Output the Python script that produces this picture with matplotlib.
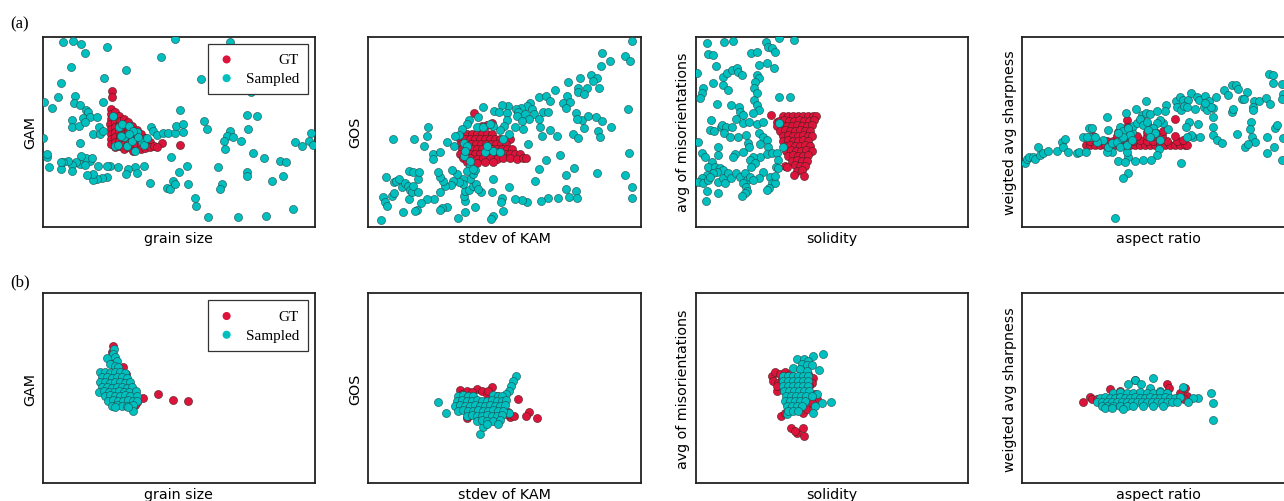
import numpy as np
import matplotlib
matplotlib.use("Agg")
import matplotlib.pyplot as plt

# values; axes carry no ticks, so units are arbitrary
# (every panel spans 0-817 horizontally and 0-570 vertically)
XMAX, YMAX = 817, 570

x_labels = ["grain size", "stdev of KAM", "solidity", "aspect ratio"]
y_labels = ["GAM", "GOS", "avg of misorientations", "weigted avg sharpness"]
row_tags = ["(a)", "(b)"]

# ---------------- row (a) ----------------
gt_a1 = [(207, 406), (209, 388),
         (204, 353), (204, 338), (205, 323), (203, 308), (204, 293), (205, 278), (204, 263), (204, 248),
         (217, 343), (216, 328), (218, 313), (217, 298), (216, 283), (218, 268), (217, 253), (217, 238),
         (230, 333), (231, 318), (229, 303), (230, 288), (231, 273), (229, 258), (230, 243),
         (243, 323), (242, 308), (244, 293), (243, 278), (242, 263), (244, 248), (243, 233),
         (256, 313), (257, 298), (255, 283), (256, 268), (257, 253), (255, 238),
         (269, 303), (268, 288), (270, 273), (269, 258), (268, 243), (270, 228),
         (282, 291), (283, 276), (281, 261), (282, 246),
         (295, 278), (294, 263), (296, 248), (295, 233),
         (308, 265), (309, 250), (307, 235),
         (321, 253), (322, 238), (334, 243),
         (357, 251), (412, 246), (342, 238)]
smp_a1 = [(62, 555), (92, 558), (115, 548), (127, 521), (192, 540), (397, 563), (355, 508),
          (85, 478), (249, 471), (184, 446), (55, 431), (47, 388), (5, 373), (27, 356),
          (97, 393), (94, 370), (112, 365), (130, 350), (137, 343), (180, 375), (87, 321),
          (120, 325), (142, 328), (162, 328), (87, 298), (109, 303), (127, 315), (169, 298),
          (150, 278), (172, 278), (182, 288), (112, 251), (324, 298), (332, 288), (342, 275),
          (362, 280), (377, 280), (397, 280), (400, 303), (422, 308), (412, 350), (484, 318),
          (492, 293), (422, 283), (614, 336), (642, 331), (617, 293), (562, 288), (552, 273),
          (572, 268), (544, 258), (547, 233), (594, 258), (632, 221), (665, 205), (712, 198),
          (730, 193), (757, 253), (777, 241), (799, 258), (804, 280), (812, 246), (720, 153),
          (687, 138), (612, 163), (612, 153), (537, 128), (532, 113), (525, 178), (475, 443),
          (562, 555), (624, 403), (457, 86), (459, 63), (497, 30), (587, 28), (670, 33),
          (752, 53), (437, 128), (432, 181), (409, 163), (384, 208), (390, 138), (372, 116),
          (382, 113), (397, 128), (322, 130), (304, 183), (277, 178), (282, 161), (255, 173),
          (250, 158), (227, 180), (202, 183), (192, 183), (194, 148), (177, 146), (164, 143),
          (152, 141), (150, 158), (134, 156), (167, 183), (142, 198), (130, 205), (115, 211),
          (112, 188), (100, 193), (87, 185), (87, 166), (77, 198), (62, 195), (54, 173),
          (55, 193), (20, 180), (14, 208), (12, 218), (127, 186), (147, 205), (2, 265),
          (212, 333), (229, 298), (239, 308), (259, 303), (217, 243), (244, 268), (227, 246),
          (234, 271), (252, 243), (277, 228), (282, 285), (267, 258), (297, 255), (304, 246),
          (314, 265), (287, 268), (272, 288), (260, 278)]

gt_a2 = [(317, 341), (355, 305), (370, 311), (340, 303),
         (280, 278), (295, 279), (310, 277), (325, 278), (340, 279), (355, 277), (370, 278),
         (275, 263), (290, 264), (305, 262), (320, 263), (335, 264), (350, 262), (365, 263),
         (380, 264), (395, 262), (425, 263),
         (277, 248), (293, 249), (308, 247), (323, 248), (338, 249), (353, 247), (368, 248),
         (383, 249), (398, 247), (413, 248),
         (280, 233), (295, 234), (310, 232), (325, 233), (340, 234), (355, 232), (370, 233),
         (385, 234), (400, 232), (415, 233), (430, 234),
         (275, 218), (290, 219), (305, 217), (320, 218), (335, 219), (350, 217), (365, 218),
         (380, 219), (395, 217), (410, 218), (425, 219), (440, 217), (455, 218),
         (285, 205), (305, 206), (325, 204), (345, 205), (365, 206), (385, 204), (405, 205),
         (425, 206), (445, 204), (465, 205), (473, 206),
         (295, 193), (325, 192), (350, 194), (375, 193)]
smp_a2 = [(790, 556), (702, 521), (770, 513), (785, 496), (725, 498), (697, 483), (668, 455),
          (685, 446), (675, 438), (635, 445), (600, 433), (693, 415), (657, 415), (630, 415),
          (630, 405), (647, 398), (560, 410), (595, 393), (513, 388), (533, 391), (545, 378),
          (585, 371), (605, 373), (593, 355), (485, 371), (475, 363), (490, 353), (458, 356),
          (443, 353), (420, 361), (400, 365), (378, 348), (393, 343), (415, 341), (450, 343),
          (445, 331), (470, 338), (497, 338), (525, 345), (540, 343), (513, 323), (483, 323),
          (460, 316), (440, 300), (463, 293), (415, 321), (407, 303), (395, 291), (423, 278),
          (403, 263), (345, 358), (330, 328), (303, 321), (295, 308), (325, 298), (343, 298),
          (375, 303), (365, 308), (280, 293), (273, 275), (260, 271), (235, 253), (257, 243),
          (180, 298), (177, 273), (168, 243), (137, 263), (73, 263), (193, 218), (215, 225),
          (195, 203), (515, 298), (520, 273), (545, 291), (567, 273), (623, 340), (640, 321),
          (658, 331), (627, 323), (647, 295), (683, 330), (700, 316), (690, 288), (695, 268),
          (728, 298), (778, 353), (613, 278), (630, 265), (575, 216), (533, 200), (480, 248),
          (513, 173), (500, 136), (617, 175), (592, 155), (687, 161), (770, 155), (783, 221),
          (792, 120), (790, 86), (592, 113), (622, 106), (627, 87), (602, 88), (568, 85),
          (540, 85), (517, 78), (475, 75), (460, 81), (440, 83), (400, 85), (397, 75), (405, 48),
          (422, 120), (375, 143), (370, 105), (373, 33), (368, 23), (320, 60), (290, 43),
          (270, 26), (290, 78), (288, 93), (290, 108), (303, 111), (313, 121), (322, 128),
          (337, 105), (330, 113), (305, 143), (315, 158), (320, 171), (305, 183), (295, 168),
          (285, 143), (283, 128), (273, 135), (265, 158), (250, 171), (255, 138), (247, 125),
          (230, 123), (225, 138), (215, 148), (210, 163), (215, 103), (235, 58), (220, 55),
          (215, 50), (197, 83), (177, 83), (157, 71), (147, 51), (140, 46), (122, 83), (105, 43),
          (38, 21), (45, 88), (50, 73), (55, 63), (70, 93), (77, 101), (53, 148), (78, 133),
          (83, 138), (93, 143), (100, 118), (110, 131), (120, 123), (125, 111), (130, 103),
          (135, 123), (150, 105), (150, 143), (123, 168), (135, 163), (153, 163),
          (287, 251), (295, 243), (287, 213), (305, 198), (315, 173), (350, 225), (375, 228),
          (355, 243), (395, 223), (290, 228)]

gt_a3 = [(225, 335), (242, 315),
         (262, 332), (277, 333), (292, 331), (307, 332), (322, 333), (337, 331), (352, 332), (360, 333),
         (250, 318), (265, 319), (280, 317), (295, 318), (310, 319), (325, 317), (340, 318), (355, 319),
         (242, 303), (257, 304), (272, 302), (287, 303), (302, 304), (317, 302), (332, 303), (347, 304),
         (252, 288), (267, 289), (282, 287), (297, 288), (312, 289), (327, 287), (342, 288),
         (260, 273), (275, 274), (290, 272), (305, 273), (320, 274), (335, 272), (347, 273),
         (262, 258), (277, 259), (292, 257), (307, 258), (322, 259), (337, 257),
         (267, 243), (282, 244), (297, 242), (312, 243), (327, 244), (342, 242),
         (270, 228), (285, 229), (300, 227), (315, 228), (330, 229), (347, 227),
         (277, 213), (292, 214), (307, 212), (322, 213), (337, 214),
         (287, 198), (302, 199), (317, 197), (332, 198),
         (267, 183), (297, 184), (312, 182), (327, 183),
         (302, 168), (317, 169), (294, 155), (324, 153), (272, 180)]
smp_a3 = [(32, 550), (85, 555), (110, 557), (210, 555), (249, 565), (294, 560), (37, 518),
          (50, 515), (60, 482), (164, 520), (182, 525), (217, 540), (227, 535), (237, 525),
          (214, 490), (234, 475), (190, 485), (82, 450), (92, 460), (107, 470), (122, 475),
          (127, 465), (137, 455), (82, 425), (97, 410), (52, 430), (20, 415), (17, 400),
          (12, 385), (4, 462), (182, 455), (190, 445), (177, 435), (175, 415), (182, 400),
          (175, 380), (182, 365), (190, 350), (170, 340), (62, 368), (105, 365), (130, 360),
          (132, 345), (120, 322), (142, 335), (250, 388), (282, 388), (44, 320), (75, 300),
          (77, 305), (90, 300), (107, 298), (142, 312), (160, 315), (182, 308), (202, 315),
          (42, 290), (55, 288), (84, 280), (102, 268), (127, 270), (150, 275), (190, 280),
          (202, 270), (212, 260), (192, 248), (157, 252), (160, 240), (140, 225), (117, 218),
          (110, 210), (67, 240), (67, 215), (7, 255), (17, 220), (27, 210), (217, 240),
          (214, 218), (227, 222), (242, 220), (262, 240), (247, 200), (240, 180), (192, 210),
          (172, 210), (162, 200), (177, 190), (200, 165), (164, 180), (47, 195), (37, 180),
          (57, 180), (72, 175), (82, 170), (64, 165), (52, 160), (32, 155), (17, 145), (7, 135),
          (20, 132), (37, 140), (42, 150), (67, 135), (80, 145), (87, 130), (97, 160),
          (104, 145), (120, 160), (132, 150), (147, 160), (154, 140), (162, 150), (142, 132),
          (150, 120), (154, 108), (147, 100), (137, 92), (32, 108), (67, 102), (30, 77),
          (190, 145), (172, 140), (222, 150), (227, 132), (237, 130), (220, 115), (212, 110),
          (237, 152), (247, 177), (249, 312)]

gt_a4 = [(313, 320), (458, 322),
         (191, 245), (203, 246), (218, 244), (233, 245), (248, 246), (263, 244), (278, 245),
         (293, 246), (308, 244), (323, 245), (338, 246), (353, 244), (368, 245), (383, 246),
         (398, 244), (413, 245), (428, 246), (443, 244), (458, 245), (473, 246), (488, 244), (495, 245),
         (203, 258), (218, 259), (253, 257), (273, 258), (293, 259), (313, 257), (333, 258),
         (353, 259), (373, 257), (393, 258), (413, 259), (433, 257), (463, 258), (483, 259),
         (213, 272), (283, 273), (303, 271), (323, 272), (343, 273), (373, 271), (393, 272),
         (418, 273), (458, 271),
         (288, 285), (313, 286), (373, 284), (398, 285), (423, 286),
         (313, 300), (378, 301)]
smp_a4 = [(8, 190), (13, 202), (21, 210), (33, 210), (38, 202), (48, 240), (53, 215), (63, 220),
          (78, 228), (105, 228), (118, 255), (128, 262), (123, 240), (138, 225), (163, 220),
          (170, 225), (191, 225), (181, 268), (201, 297), (208, 295), (203, 270), (255, 328),
          (258, 290), (311, 340), (341, 353), (371, 377), (358, 335), (371, 342), (383, 338),
          (403, 348), (431, 365), (428, 347), (461, 378), (473, 390), (483, 380), (498, 380),
          (505, 402), (523, 390), (531, 380), (548, 392), (561, 377), (581, 388), (605, 410),
          (618, 395), (628, 425), (641, 425), (648, 412), (675, 405), (658, 382), (665, 382),
          (695, 377), (711, 377), (731, 385), (743, 368), (741, 458), (753, 455), (751, 430),
          (778, 428), (783, 398), (778, 382), (691, 360), (693, 350), (628, 345), (633, 352),
          (571, 357), (545, 360), (553, 350), (565, 358), (573, 330), (573, 298), (573, 275),
          (583, 260), (598, 252), (528, 308), (501, 315), (491, 298), (513, 270), (533, 268),
          (505, 275), (493, 270), (475, 192), (438, 292), (423, 310), (413, 320), (403, 310),
          (391, 295), (398, 280), (413, 260), (411, 233), (403, 215), (385, 200), (363, 200),
          (338, 198), (318, 210), (313, 225), (288, 197), (308, 193), (316, 162), (303, 145),
          (278, 27), (268, 225), (253, 225), (258, 240), (268, 250), (283, 255), (298, 265),
          (313, 280), (328, 285), (333, 302), (343, 312), (353, 322), (361, 305), (373, 315),
          (378, 290), (383, 270), (293, 300), (301, 288), (318, 295), (323, 275), (303, 270),
          (288, 280), (293, 240), (313, 245), (328, 260), (243, 260), (223, 255), (193, 268),
          (218, 270), (685, 315), (683, 292), (688, 270), (698, 255), (668, 240), (678, 248),
          (645, 278), (733, 268), (758, 295), (763, 305), (755, 240), (733, 220), (778, 200),
          (783, 265), (465, 358), (476, 350), (485, 362), (495, 360), (518, 352), (548, 370)]

# ---------------- row (b) ----------------
gt_b1 = [(302, 255), (347, 268), (390, 251), (435, 248), (282, 243), (277, 235), (210, 411),
         (207, 395), (240, 348), (250, 328), (272, 248), (267, 241), (207, 358), (192, 323),
         (202, 293), (222, 273), (252, 263), (267, 273)]
smp_b1 = [(214, 403), (210, 388), (217, 378), (192, 375), (222, 368), (202, 358), (217, 353), (227, 348),
          (172, 333), (187, 334), (202, 332), (217, 333), (232, 334), (247, 332),
          (177, 318), (192, 319), (207, 317), (222, 318), (237, 319), (252, 317),
          (172, 303), (187, 304), (202, 302), (217, 303), (232, 304), (247, 302), (262, 303),
          (177, 288), (192, 289), (207, 287), (222, 288), (237, 289), (252, 287), (267, 288),
          (170, 275), (185, 276), (200, 274), (215, 275), (230, 276), (245, 274), (260, 275), (280, 276),
          (187, 263), (202, 264), (217, 262), (232, 263), (247, 264), (262, 262), (282, 263),
          (197, 248), (212, 249), (227, 247), (242, 248), (257, 249), (272, 247), (284, 248),
          (207, 233), (222, 234), (237, 232), (254, 233), (270, 234),
          (272, 218), (217, 228), (257, 228)]

gt_b2 = [(275, 281), (295, 278), (325, 283), (340, 278), (372, 288), (450, 253), (483, 215),
         (473, 201), (505, 195), (425, 198), (437, 203), (420, 215), (295, 195), (300, 203),
         (355, 268), (385, 263), (405, 223), (415, 208), (280, 268), (310, 273), (360, 278)]
smp_b2 = [(208, 243), (233, 211), (335, 148), (345, 168), (442, 323), (433, 308), (428, 293),
          (422, 278), (413, 268), (423, 211),
          (270, 263), (285, 264), (300, 262), (315, 263), (375, 264), (390, 262), (400, 263),
          (265, 248), (280, 249), (295, 247), (310, 248), (325, 249), (340, 247), (355, 248),
          (370, 249), (385, 247), (400, 248), (413, 249),
          (260, 233), (275, 234), (290, 232), (305, 233), (320, 234), (335, 232), (350, 233),
          (365, 234), (380, 232), (395, 233), (410, 234),
          (270, 218), (285, 219), (300, 217), (315, 218), (330, 219), (345, 217), (360, 218),
          (375, 219), (390, 217), (405, 218),
          (295, 203), (310, 204), (325, 202), (340, 203), (355, 204), (370, 202), (385, 203), (400, 204),
          (325, 188), (340, 189), (355, 187), (375, 188), (395, 189),
          (355, 178), (390, 178)]

gt_b3 = [(227, 322), (237, 334), (252, 327), (267, 334), (282, 327), (232, 307), (247, 302),
         (242, 277), (254, 202), (267, 210), (322, 212), (332, 222), (352, 317), (347, 302),
         (340, 292), (357, 267), (362, 252), (347, 242), (285, 167), (302, 152), (320, 167),
         (324, 142), (297, 157), (257, 312), (272, 317), (337, 327), (242, 292)]
smp_b3 = [(382, 387), (352, 382), (370, 340), (404, 244), (377, 242), (364, 267), (357, 232),
          (350, 210), (272, 207), (304, 372), (324, 372), (337, 367), (317, 357), (332, 354),
          (347, 354), (292, 347), (312, 342), (332, 337),
          (262, 322), (277, 323), (292, 321), (307, 322), (322, 323), (337, 321),
          (260, 307), (275, 308), (290, 306), (305, 307), (320, 308), (335, 306),
          (262, 292), (277, 293), (292, 291), (307, 292), (322, 293), (337, 291),
          (264, 277), (279, 278), (294, 276), (309, 277), (324, 278), (339, 276),
          (270, 262), (285, 263), (300, 261), (315, 262), (330, 263), (347, 261),
          (267, 247), (282, 248), (297, 246), (312, 247), (327, 248),
          (272, 232), (287, 233), (302, 231), (317, 232),
          (277, 217), (292, 218), (307, 216)]

gt_b4 = [(183, 244), (203, 260), (208, 252), (263, 282), (338, 310), (433, 297), (441, 287),
         (473, 270), (488, 287), (493, 262), (398, 262), (223, 252), (373, 267), (293, 277),
         (485, 252), (453, 252)]
smp_b4 = [(393, 317), (338, 310), (355, 297), (483, 289), (565, 270), (573, 242), (573, 189),
          (528, 257), (513, 257), (498, 244), (383, 287), (413, 277), (318, 297),
          (273, 272), (293, 273), (313, 271), (333, 272), (353, 273), (373, 271), (393, 272),
          (413, 273), (433, 271),
          (233, 257), (248, 258), (263, 256), (278, 257), (293, 258), (308, 256), (323, 257),
          (338, 258), (353, 256), (368, 257), (383, 258), (398, 256), (413, 257), (428, 258),
          (443, 256), (458, 257), (473, 258),
          (223, 244), (238, 245), (253, 243), (268, 244), (283, 245), (298, 243), (313, 244),
          (328, 245), (343, 243), (358, 244), (373, 245), (388, 243), (403, 244), (418, 245),
          (433, 243), (448, 244), (463, 245),
          (238, 232), (253, 233), (273, 231), (293, 232), (313, 233), (333, 231), (363, 232),
          (393, 233), (423, 231),
          (248, 225), (268, 226), (303, 224)]

panels = [[(gt_a1, smp_a1), (gt_a2, smp_a2), (gt_a3, smp_a3), (gt_a4, smp_a4)],
          [(gt_b1, smp_b1), (gt_b2, smp_b2), (gt_b3, smp_b3), (gt_b4, smp_b4)]]

gt_color = "crimson"
smp_color = "c"

W, H = 1284, 502
fig = plt.figure(figsize=(W / 100, H / 100), dpi=100)

lefts = [42.7, 368.3, 696.0, 1022.3]
bottoms = [227.7, 484.3]
aw, ah = 272.3, 190.0
tag_y = [24.5, 282.0]

for r in range(2):
    fig.text(10 / W, 1 - tag_y[r] / H, row_tags[r], fontsize=12,
             family="Liberation Serif", ha="left", va="center")
    for c in range(4):
        ax = fig.add_axes([lefts[c] / W, (H - bottoms[r]) / H, aw / W, ah / H])
        gt, smp = panels[r][c]
        gt = np.array(gt)
        smp = np.array(smp)
        ax.scatter(gt[:, 0], gt[:, 1], s=34, c=gt_color, edgecolors="#4a2020",
                   linewidths=0.4, label="GT", zorder=2)
        ax.scatter(smp[:, 0], smp[:, 1], s=34, c=smp_color, edgecolors="#1f4f4f",
                   linewidths=0.4, label="Sampled", zorder=3)
        ax.set_xlim(0, XMAX)
        ax.set_ylim(0, YMAX)
        ax.set_xticks([])
        ax.set_yticks([])
        for sp in ax.spines.values():
            sp.set_linewidth(1.3)
            sp.set_color("#222222")
        ax.set_xlabel(x_labels[c], fontsize=10.3, labelpad=3)
        ax.set_ylabel(y_labels[c], fontsize=10.3, labelpad=4)
        if c == 0:
            leg = ax.legend(loc="upper right", fancybox=False, scatterpoints=1,
                            prop={"family": "Liberation Serif", "size": 11},
                            handlelength=1.3, handletextpad=0.6, labelspacing=0.33,
                            borderpad=0.6, borderaxespad=0.45, framealpha=1)
            leg.get_frame().set_edgecolor("#333333")
            leg.get_frame().set_linewidth(0.9)
            for h in leg.legend_handles:
                h.set_edgecolor("none")
            # right-align the legend labels
            renderer = fig.canvas.get_renderer()
            widths = [t.get_window_extent(renderer).width for t in leg.get_texts()]
            for t, w in zip(leg.get_texts(), widths):
                t.set_ha("right")
                t.set_position((max(widths) - w, 0))

fig.savefig("out.png", dpi=100)
